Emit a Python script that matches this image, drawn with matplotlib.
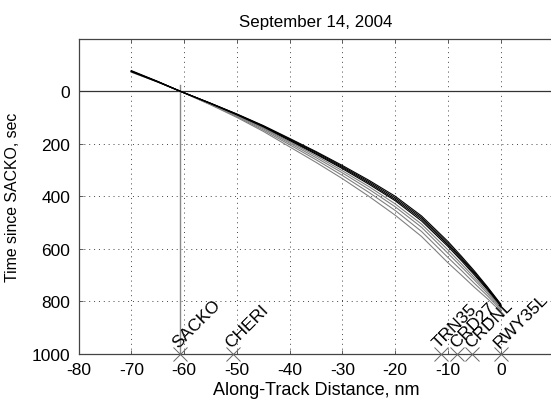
import matplotlib
matplotlib.use("Agg")
import matplotlib.pyplot as plt

plt.rcParams['font.family'] = ['Liberation Sans', 'DejaVu Sans']
plt.rcParams['axes.unicode_minus'] = False

title = "September 14, 2004"
xlabel = "Along-Track Distance, nm"
ylabel = "Time since SACKO, sec"

xticks = [-80, -70, -60, -50, -40, -30, -20, -10, 0]
yticks = [0, 200, 400, 600, 800, 1000]

# fixes along the track (nm) and their names
fix_names = ["SACKO", "CHERI", "TRN35", "CRD27", "CRDNL", "RWY35L"]
fix_dist = [-60.8, -50.8, -11.4, -8.2, -5.4, 0.0]
fix_time = 1000

# sample positions (nm) shared by all tracks
track_x = [-70, -65, -60.8, -55, -50, -45, -40, -35, -30, -25, -20, -15, -10,
           -7.5, -5, -2.5, 0]

# black tracks (time since SACKO, s)
black_tracks = [
    [-78, -37, 0, 46, 87, 131, 180, 230, 283, 339, 400, 475, 572, 627, 684, 745, 810],
    [-76, -36, 0, 46, 88, 133, 183, 233, 287, 344, 406, 481, 579, 633, 689, 749, 812],
    [-75, -36, 0, 47, 89, 134, 185, 237, 291, 349, 412, 487, 585, 638, 694, 752, 814],
    [-74, -35, 0, 47, 90, 136, 188, 240, 295, 354, 417, 494, 591, 644, 699, 756, 817],
]
# gray tracks
gray_tracks = [
    [-74, -35, 0, 48, 92, 140, 193, 246, 303, 363, 429, 506, 604, 656, 709, 763, 821],
    [-73, -35, 0, 49, 94, 143, 198, 253, 311, 373, 440, 518, 617, 667, 718, 770, 825],
    [-73, -35, 0, 51, 97, 148, 204, 261, 321, 385, 454, 534, 633, 681, 731, 779, 831],
    [-72, -34, 0, 52, 100, 153, 212, 271, 333, 400, 472, 553, 653, 699, 746, 790, 838],
]

fig = plt.figure(figsize=(5.51, 4.02), dpi=100)
ax = fig.add_axes([78.5 / 551, 47 / 402, (553.5 - 78.5) / 551, (355 - 39.5) / 402])

for tr in gray_tracks:
    ax.plot(track_x, tr, color='#808080', lw=0.8, zorder=3)
for tr in black_tracks:
    ax.plot(track_x, tr, color='#000000', lw=0.8, zorder=4)

# reference lines
ax.axhline(0, color='#333333', lw=0.9, zorder=2)
ax.plot([fix_dist[0], fix_dist[0]], [-25, 1000], color='#888888', lw=1.0, zorder=2)

# fix markers and labels
for name, d in zip(fix_names, fix_dist):
    ax.plot([d], [fix_time], marker='x', ms=9.5, mew=0.7, color='#666666',
            clip_on=False, zorder=5)
    ax.text(d + 0.1, fix_time - 14, name, rotation=45, rotation_mode='anchor',
            ha='left', va='bottom', fontsize=12.5, color='#000000', zorder=6)

ax.set_xlim(-80, 10)
ax.set_ylim(1000, -200)
ax.set_xticks(xticks)
ax.set_yticks(yticks)
ax.tick_params(direction='in', top=True, right=True, length=3, width=0.6,
               color='#444444', labelsize=12.5, pad=6)
for s in ax.spines.values():
    s.set_color('#444444')
    s.set_linewidth(0.9)

ax.grid(True, linestyle=(0, (1, 4)), color='#444444', lw=0.7)
ax.set_axisbelow(True)

ax.set_title(title, fontsize=12.2, pad=9)
ax.set_xlabel(xlabel, fontsize=13, labelpad=3)
ax.set_ylabel(ylabel, fontsize=11.4, labelpad=8)

fig.savefig("out.png", dpi=100)
